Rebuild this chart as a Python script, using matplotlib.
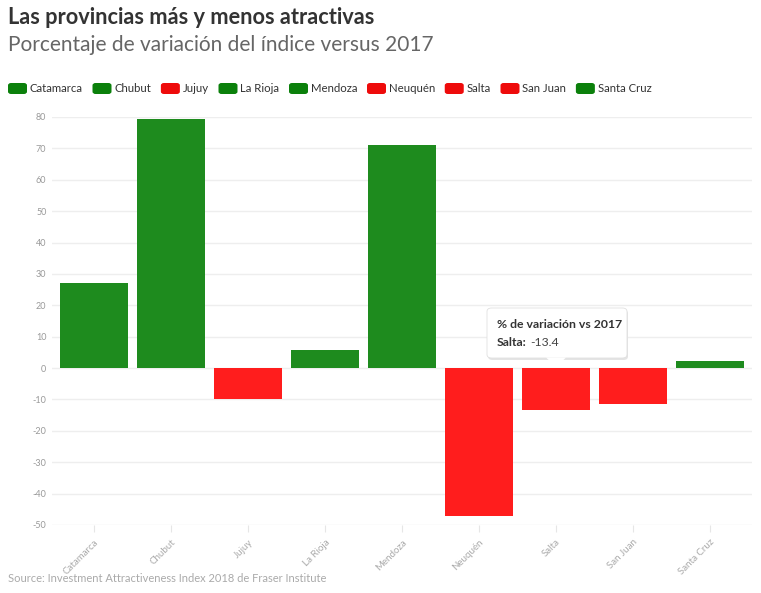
import matplotlib
matplotlib.use('Agg')
import matplotlib.pyplot as plt
from matplotlib.patches import FancyBboxPatch, Polygon

provincias = ['Catamarca', 'Chubut', 'Jujuy', 'La Rioja', 'Mendoza',
              'Neuquén', 'Salta', 'San Juan', 'Santa Cruz']
variacion = [27.0, 79.5, -10.0, 5.7, 71.1, -47.0, -13.4, -11.4, 2.3]
yticks = [80, 70, 60, 50, 40, 30, 20, 10, 0, -10, -20, -30, -40, -50]

green = '#1e8b1e'
red = '#ff1d1d'
green_leg = '#0b800b'
red_leg = '#ee0b0b'
grid = '#eeeeee'

plt.rcParams['font.family'] = ['Lato', 'DejaVu Sans']

W, H = 761, 593
fig = plt.figure(figsize=(W / 100, H / 100), dpi=100, facecolor='white')

def fx(x):
    return x / W

def fy(y):
    return 1 - y / H

ax = fig.add_axes([fx(52), fy(525), fx(752) - fx(52), fy(117) - fy(525)])
ax.set_facecolor('white')
colors = [green if v >= 0 else red for v in variacion]
x = range(len(provincias))
ax.bar(x, variacion, width=0.885, color=colors, zorder=3)
ax.set_xlim(-0.545, len(provincias) - 0.455)
ax.set_ylim(-50, 80)
ax.set_yticks(yticks)
ax.set_yticklabels([str(t) for t in yticks])
ax.set_xticks(list(x))
ax.set_xticklabels(provincias, rotation=45, ha='right', va='top',
                   rotation_mode='anchor')
for s in ax.spines.values():
    s.set_visible(False)
ax.grid(axis='y', color=grid, linewidth=1, zorder=0)
ax.tick_params(axis='y', length=0, labelsize=6.5, labelcolor='#999999', pad=4)
ax.tick_params(axis='x', length=5, color='#e6e6e6', labelsize=7,
               labelcolor='#aaaaaa', pad=4)

# title and subtitle
fig.text(fx(8), fy(18), 'Las provincias más y menos atractivas', fontsize=15.7,
         fontweight='bold', color='#333333', va='center', ha='left')
fig.text(fx(8), fy(45), 'Porcentaje de variación del índice versus 2017',
         fontsize=15, color='#666666', va='center', ha='left')

# legend
leg_colors = [green_leg if v >= 0 else red_leg for v in variacion]
fig.canvas.draw()
rend = fig.canvas.get_renderer()
cx = 8
for name, c in zip(provincias, leg_colors):
    sw = FancyBboxPatch((fx(cx), fy(94)), fx(19), fy(83) - fy(94),
                        boxstyle='round,pad=0,rounding_size=0.004',
                        transform=fig.transFigure, fc=c, ec='none')
    fig.patches.append(sw)
    t = fig.text(fx(cx + 22), fy(88.5), name, fontsize=8.2, color='#333333',
                 va='center', ha='left')
    w = t.get_window_extent(rend).width
    cx = cx + 22 + w + 9.5

# tooltip
bx0, by0, bx1, by1 = 487, 308, 627, 358
shadow = FancyBboxPatch((fx(bx0 + 1), fy(by1 + 2)), fx(bx1 - bx0), fy(by0) - fy(by1),
                        boxstyle='round,pad=0,rounding_size=0.006',
                        transform=fig.transFigure, fc='#e4e4e4', ec='none',
                        zorder=9)
box = FancyBboxPatch((fx(bx0), fy(by1)), fx(bx1 - bx0), fy(by0) - fy(by1),
                     boxstyle='round,pad=0,rounding_size=0.006',
                     transform=fig.transFigure, fc='white', ec='#e0e0e0',
                     lw=0.6, zorder=10)
fig.patches.extend([shadow, box])
tip_x = ax.transData.transform((6, 0))[0]
tip = Polygon([(tip_x - 10, H - by1 + 0.5), (tip_x + 10, H - by1 + 0.5),
               (tip_x, H - by1 - 9)], closed=True, fc='white', ec='none',
              transform=None, zorder=11)
fig.patches.append(tip)
fig.text(fx(497), fy(325), '% de variación vs 2017', fontsize=8.8,
         fontweight='bold', color='#333333', va='center', ha='left', zorder=12)
t1 = fig.text(fx(497), fy(342), 'Salta:', fontsize=8.8, fontweight='bold',
              color='#333333', va='center', ha='left', zorder=12)
w1 = t1.get_window_extent(rend).width
fig.text(fx(497 + w1 + 3), fy(342), '-13.4', fontsize=8.8, color='#444444',
         va='center', ha='left', zorder=12)

# source
fig.text(fx(8), fy(578), 'Source: Investment Attractiveness Index 2018 de Fraser Institute',
         fontsize=8, color='#aaaaaa', va='center', ha='left')

fig.savefig('out.png', dpi=100, facecolor='white')
